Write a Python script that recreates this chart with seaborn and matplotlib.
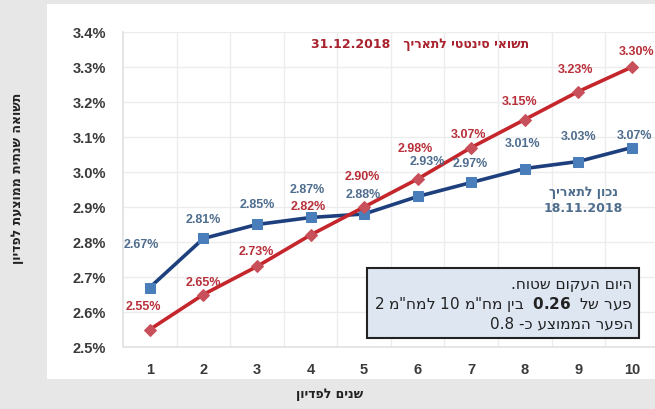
import numpy as np
import pandas as pd
import seaborn as sns
from matplotlib import pyplot as plt
from matplotlib.patches import Rectangle

# נתונים - תשואה לפדיון לפי שנים
years = list(range(1, 11))
nominal_nov = [2.67, 2.81, 2.85, 2.87, 2.88, 2.93, 2.97, 3.01, 3.03, 3.07]
synthetic_dec = [2.55, 2.65, 2.73, 2.82, 2.90, 2.98, 3.07, 3.15, 3.23, 3.30]
y_ticks = [2.5, 2.6, 2.7, 2.8, 2.9, 3.0, 3.1, 3.2, 3.3, 3.4]

# offsets of the value labels (pixels)
blue_off = [(-8, 43), (0, 19), (0, 20), (-3, 28), (-1, 20), (10, 35), (-1, 19), (-2, 25), (0, 25), (3, 12)]
red_off = [(-6, 23), (0, 12), (-1, 15), (-2, 29), (-2, 31), (-2, 31), (-3, 13), (-5, 18), (-3, 22), (5, 16)]


def rev(s):
    # matplotlib has no bidi, so Hebrew goes in visual order
    return s[::-1]


df = pd.DataFrame({'years': years, 'nominal': nominal_nov, 'synthetic': synthetic_dec})

sns.set_theme(style='whitegrid')
plt.rcParams['font.family'] = ['Liberation Sans', 'DejaVu Sans']

blue_line = '#1d3f7e'
blue_mark = '#4a7ebb'
blue_text = '#4f6e8e'
red_line = '#c4262b'
red_mark = '#c8505a'
red_text = '#b8303a'

fig = plt.figure(figsize=(6.55, 4.1), dpi=100, facecolor='#e7e7e7')
fig.patches.append(Rectangle((47 / 655, 1 - 380 / 410), 1, 375 / 410,
                             transform=fig.transFigure, facecolor='white',
                             edgecolor='none', zorder=-1))
ax = fig.add_axes([123 / 655, 1 - 348 / 410, 532 / 655, 315 / 410])
ax.set_facecolor('none')

sns.lineplot(data=df, x='years', y='nominal', ax=ax, color=blue_line, linewidth=2.6,
             marker='s', markersize=7, markerfacecolor=blue_mark,
             markeredgecolor=blue_mark, zorder=3)
sns.lineplot(data=df, x='years', y='synthetic', ax=ax, color=red_line, linewidth=2.6,
             marker='D', markersize=6.5, markerfacecolor=red_mark,
             markeredgecolor=red_mark, zorder=3)

for x, v, off in zip(years, nominal_nov, blue_off):
    ax.annotate(f'{v:.2f}%', (x, v), xytext=off, textcoords='offset pixels',
                ha='center', va='center', fontsize=9, fontweight='bold', color=blue_text)
for x, v, off in zip(years, synthetic_dec, red_off):
    ax.annotate(f'{v:.2f}%', (x, v), xytext=off, textcoords='offset pixels',
                ha='center', va='center', fontsize=9, fontweight='bold', color=red_text)

ax.set_xlim(0.5, 10.43)
ax.set_ylim(2.5, 3.4)
ax.set_yticks(y_ticks)
ax.set_yticklabels([f'{t:.1f}%' for t in y_ticks])
ax.set_xticks(years)
ax.set_xticks([x + 0.5 for x in years[:-1]], minor=True)
ax.grid(False)
ax.grid(which='minor', axis='x', color='#ececec', linewidth=1)
ax.grid(which='major', axis='y', color='#ececec', linewidth=1)
ax.tick_params(axis='x', which='both', length=0, pad=11)
ax.tick_params(axis='y', length=0, pad=12)
for lab in ax.get_xticklabels() + ax.get_yticklabels():
    lab.set_fontweight('bold')
    lab.set_fontsize(10.5)
    lab.set_color('#3a3a3a')
for side in ['top', 'right']:
    ax.spines[side].set_visible(False)
ax.spines['left'].set_color('#e2e2e2')
ax.spines['bottom'].set_color('#e2e2e2')
ax.set_xlabel('')
ax.set_ylabel('')

heb = ['DejaVu Sans']
fig.text(330 / 655, 1 - 395 / 410, rev('שנים לפדיון'), ha='center', va='center',
         fontsize=9, fontweight='bold', color='#222222', family=heb)
fig.text(18 / 655, 1 - 178 / 410, rev('תשואה שנתית ממוצעת לפדיון'), rotation=90,
         ha='center', va='center', fontsize=9, fontweight='bold', color='#222222', family=heb)

ax.text(0.558, 0.962, '31.12.2018   ' + rev('תשואי סינטטי לתאריך'), transform=ax.transAxes,
        ha='center', va='center', fontsize=9, fontweight='bold', color='#a8232d', family=heb)
ax.text(0.865, 0.495, rev('נכון לתאריך'), transform=ax.transAxes,
        ha='center', va='center', fontsize=9, fontweight='bold', color=blue_text, family=heb)
ax.text(0.865, 0.444, '18.11.2018', transform=ax.transAxes,
        ha='center', va='center', fontsize=9, fontweight='bold', color=blue_text, family=heb)

ax.add_patch(Rectangle((0.459, 0.029), 0.511, 0.222, transform=ax.transAxes,
                       facecolor='#dde6f1', edgecolor='#222222', linewidth=1.5, zorder=4))
box_lines = [
    rev('היום העקום שטוח.'),
    '2 ' + rev('למח"מ') + ' 10 ' + rev('בין מח"מ') + r'  $\mathbf{0.26}$  ' + rev('פער של'),
    '0.8 ' + rev('הפער הממוצע כ-'),
]
for i, line in enumerate(box_lines):
    ax.text(0.958, 0.200 - i * 0.062, line, transform=ax.transAxes, ha='right', va='center',
            fontsize=11, color='#222222', zorder=5, family=heb)

fig.savefig('out.png', dpi=100, facecolor=fig.get_facecolor())
